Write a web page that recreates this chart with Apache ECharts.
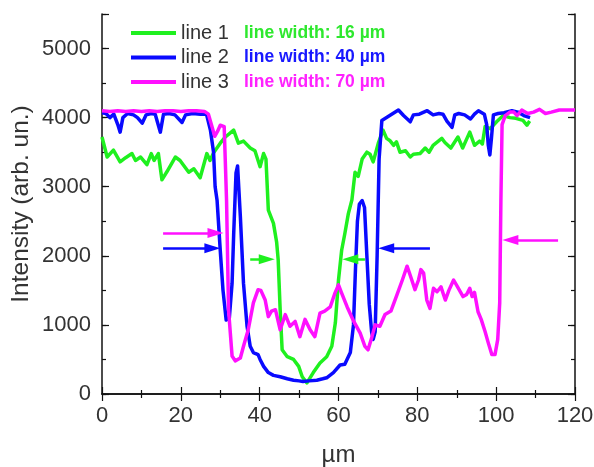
<!DOCTYPE html>
<html>
<head>
<meta charset="utf-8">
<script src="https://cdn.jsdelivr.net/npm/echarts@6/dist/echarts.min.js"></script>
<style>html,body{margin:0;padding:0;background:#fff}#c{width:594px;height:467px}</style>
</head>
<body>
<div id="c"></div>
<script>
// ---- data ----
const seriesNames = ['line 1', 'line 2', 'line 3'];
const widthTexts = ['line width: 16 \u00b5m', 'line width: 40 \u00b5m', 'line width: 70 \u00b5m'];
const xTicks = [0, 20, 40, 60, 80, 100, 120];
const yTicks = [0, 1000, 2000, 3000, 4000, 5000];

const x1 = [0,1.3,2.9,4.6,6,7.6,8.5,9.8,11.4,12.5,13.2,14.3,15.2,16.5,18.6,19.8,22,23.3,24.9,26.6,27.4,28.3,30,31.3,33.4,34.6,35.9,37.6,38.8,40.1,41,41.6,42.2,43.5,44.3,44.7,45.2,45.7,47,48.6,49.9,50.8,52,53.6,55.3,57,58.3,59.2,60,60.8,61.6,62.5,63.4,64.2,65,66,67.2,68,68.8,70.1,71.3,72.2,73,74,74.7,75.6,77,78.2,79,80.7,82,83,84,86.2,87,88.5,90.3,91.5,93.3,94.5,95.8,96.5,97.2,98.5,100.1,101.8,103.5,105,106.8,107.8,108.5];
const y1 = [3720,3430,3530,3360,3420,3480,3380,3430,3320,3480,3380,3480,3100,3220,3430,3380,3210,3260,3130,3480,3380,3490,3630,3720,3820,3630,3660,3560,3520,3290,3480,3400,2660,2470,2200,1940,1220,640,540,500,400,250,160,310,450,540,690,1030,1650,2080,2320,2610,2810,3210,3150,3400,3500,3470,3360,3630,3820,3700,3670,3600,3650,3500,3520,3430,3470,3480,3560,3500,3600,3700,3640,3560,3720,3560,3790,3600,3660,3620,3870,3840,3940,4030,4000,3990,3960,3890,3950];

const x2 = [0,1,2,3,4,4.6,5.3,6.5,8,9,10.2,11.2,12.5,13.5,14.8,15.6,17,18.5,20.3,21.2,23,25,26.5,27.5,28.3,28.7,29.2,30,30.7,31.5,32.3,33,33.4,34,34.4,35.1,35.9,36.8,37.6,38.4,39.6,40.1,41,42.2,43.5,45.2,47,48.6,50,51,52.5,54.5,56,57,58.7,60.4,61.6,63,63.8,64.3,64.8,65.3,66,66.6,67.2,67.8,68.4,68.8,69.3,69.8,70.3,71,73,75.2,76.5,78.2,79,80.5,82.5,84,85.5,86.5,87.5,88.8,89.5,90.5,92,93.5,94.5,95.5,97,97.6,98,98.4,98.8,99.3,100.5,102,104,105.5,107,108.6];
const y2 = [4070,4060,4000,4050,3900,3790,4000,4060,4040,4000,3920,4040,4060,4050,3790,4050,4060,4040,3930,4040,4060,4050,4050,3820,3500,3000,2800,2080,1500,1070,1100,1600,2300,3200,3300,2570,1600,980,690,600,570,500,400,310,270,250,220,200,190,180,190,200,220,235,310,420,430,600,1000,1800,2500,2750,2800,2700,2000,1300,900,790,900,2000,3400,3960,4030,4110,4030,3940,4040,4050,4100,4040,4060,4050,3950,3860,4040,4060,4040,3980,4050,4100,4050,3900,3600,3460,3700,4040,4060,4070,4100,4080,4030,4000];

const x3 = [0,2,4,6,8,10,12,14,16,18,20,22,24,26,27,28,28.6,29.3,30,31,31.6,32.1,33,33.8,35.1,35.9,37.1,38.4,39.6,40.3,41.4,42.2,43,44,45.2,46.5,47.7,49,50.2,51.5,52.8,54,55.3,56.5,57.9,59.1,60,60.8,62.2,63.7,65.5,66.7,67.5,68.5,69.3,70.5,71.8,73.3,74.8,76.2,77.4,78.3,79.4,80.3,80.9,81.6,82.4,83.2,83.7,84.1,85,86,87.1,88,89.2,90.2,91.6,92.5,93.3,93.9,94.5,95.4,96.2,97.2,98,98.9,99.7,100.4,100.9,101.2,101.5,102.3,103.5,104.5,105.3,106.5,108,109.5,111,112.5,114,116,118,120];
const y3 = [4100,4090,4100,4090,4100,4090,4100,4090,4100,4100,4090,4100,4100,4090,4050,3850,3730,3800,3890,3870,2800,1220,550,480,520,690,930,1320,1510,1500,1360,1120,1200,1220,930,1150,980,1050,830,1080,930,830,1170,1200,1260,1460,1580,1460,1260,1070,880,690,640,830,1000,980,1150,1200,1430,1650,1850,1700,1510,1650,1800,1750,1360,1240,1250,1530,1480,1550,1360,1500,1650,1550,1410,1440,1530,1410,1470,1190,1080,900,740,570,570,790,1320,2800,3900,4030,4080,4080,4030,4110,4060,4080,4120,4060,4080,4110,4110,4110];

// arrows: tail x, head x, y value, series index (colour)
const arrowTailX = [15.5, 15.5, 83.2, 115.7, 37.6, 66.7];
const arrowHeadX = [28.8, 28.0, 72.1, 103.6, 41.8, 63.0];
const arrowY     = [2330, 2110, 2110, 2230, 1950, 1950];
const arrowSeries = [2, 1, 1, 2, 0, 0];

// ---- styles ----
const colors = ['#1ff01f', '#0a0aff', '#ff10ff'];
const textColors = ['#2ee82e', '#1818ff', '#ff22ff'];
const FONT = '"Liberation Sans", Arial, sans-serif';

const pairs = (xs, ys) => xs.map((x, i) => [x, ys[i]]);
const dataSets = [pairs(x1, y1), pairs(x2, y2), pairs(x3, y3)];

const chart = echarts.init(document.getElementById('c'), null, {renderer: 'canvas'});

const frameLine = {show: true, lineStyle: {color: '#111', width: 1.5}};
const majorTick = (len) => ({show: true, inside: true, length: len, lineStyle: {color: '#111', width: 1.2}});

const rich = {n: {fontSize: 20, color: '#333', width: 63, lineHeight: 20, fontFamily: FONT}};
textColors.forEach((c, i) => {
  rich['w' + i] = {fontSize: 17.5, color: c, fontWeight: 'bold', lineHeight: 20, fontFamily: FONT};
});

const lineSeries = seriesNames.map((name, i) => ({
  name: name,
  type: 'line',
  data: dataSets[i],
  xAxisIndex: 0,
  yAxisIndex: 0,
  showSymbol: false,
  symbol: 'none',
  smooth: false,
  color: colors[i],
  lineStyle: {width: 3.5, color: colors[i], join: 'round'},
  z: 3 + i
}));

const arrowSeriesObj = {
  type: 'lines',
  coordinateSystem: 'cartesian2d',
  xAxisIndex: 0,
  yAxisIndex: 0,
  symbol: ['none', 'triangle'],
  symbolSize: [1, [10, 16]],
  z: 10,
  silent: true,
  data: arrowTailX.map((tx, i) => ({
    coords: [[tx, arrowY[i]], [arrowHeadX[i], arrowY[i]]],
    lineStyle: {color: colors[arrowSeries[i]], width: 2.5}
  })),
  lineStyle: {width: 2.5, opacity: 1, curveness: 0}
};

const yAxisBase = {type: 'value', min: 0, max: 5500, gridIndex: 0, splitLine: {show: false}};

const option = {
  animation: false,
  backgroundColor: '#fff',
  textStyle: {fontFamily: FONT},
  grid: {left: 102, right: 19, top: 14, bottom: 73, containLabel: false, outerBoundsMode: 'none'},
  legend: {
    data: seriesNames.map((n) => ({name: n, icon: 'rect'})),
    orient: 'vertical',
    left: 131,
    top: 23,
    itemWidth: 45,
    itemHeight: 4,
    itemGap: 4.5,
    padding: 0,
    selectedMode: false,
    formatter: (name) => {
      const i = seriesNames.indexOf(name);
      return '{n|' + name + '}{w' + i + '|' + widthTexts[i] + '}';
    },
    textStyle: {rich: rich, fontSize: 20, color: '#333'}
  },
  xAxis: [
    {
      type: 'value', min: xTicks[0], max: xTicks[xTicks.length - 1], interval: 20, position: 'bottom',
      name: '\u00b5m', nameLocation: 'middle', nameGap: 49,
      nameTextStyle: {fontSize: 24, color: '#333', fontFamily: FONT},
      axisLine: frameLine, axisTick: majorTick(7),
      minorTick: {show: true, splitNumber: 2, length: 4, lineStyle: {color: '#111', width: 1.2}},
      axisLabel: {fontSize: 22, color: '#333', margin: 11, fontFamily: FONT,
        formatter: (v) => xTicks.indexOf(v) >= 0 ? String(v) : ''},
      splitLine: {show: false}, minorSplitLine: {show: false}
    },
    {
      type: 'value', min: 0, max: 120, interval: 20, position: 'top',
      axisLine: frameLine, axisTick: majorTick(7),
      minorTick: {show: true, splitNumber: 2, length: 4, lineStyle: {color: '#111', width: 1.2}},
      axisLabel: {show: false}, splitLine: {show: false}
    }
  ],
  yAxis: [
    Object.assign({}, yAxisBase, {
      position: 'left', interval: 1000,
      name: 'Intensity (arb. un.)', nameLocation: 'middle', nameGap: 68, nameRotate: 90,
      nameMoveOverlap: false,
      nameTextStyle: {fontSize: 24.5, color: '#333', fontFamily: FONT},
      axisLine: frameLine, axisTick: majorTick(7),
      axisLabel: {fontSize: 22, color: '#333', margin: 11, fontFamily: FONT,
        formatter: (v) => yTicks.indexOf(v) >= 0 ? String(v) : ''}
    }),
    Object.assign({}, yAxisBase, {
      position: 'left', interval: 500, offset: 0,
      axisLine: {show: false}, axisTick: majorTick(4), axisLabel: {show: false}
    }),
    Object.assign({}, yAxisBase, {
      position: 'right', interval: 1000, offset: 0,
      axisLine: frameLine, axisTick: majorTick(7), axisLabel: {show: false}
    }),
    Object.assign({}, yAxisBase, {
      position: 'right', interval: 500, offset: 0,
      axisLine: {show: false}, axisTick: majorTick(4), axisLabel: {show: false}
    })
  ],
  series: lineSeries.concat([arrowSeriesObj])
};

chart.setOption(option);
</script>
</body>
</html>
